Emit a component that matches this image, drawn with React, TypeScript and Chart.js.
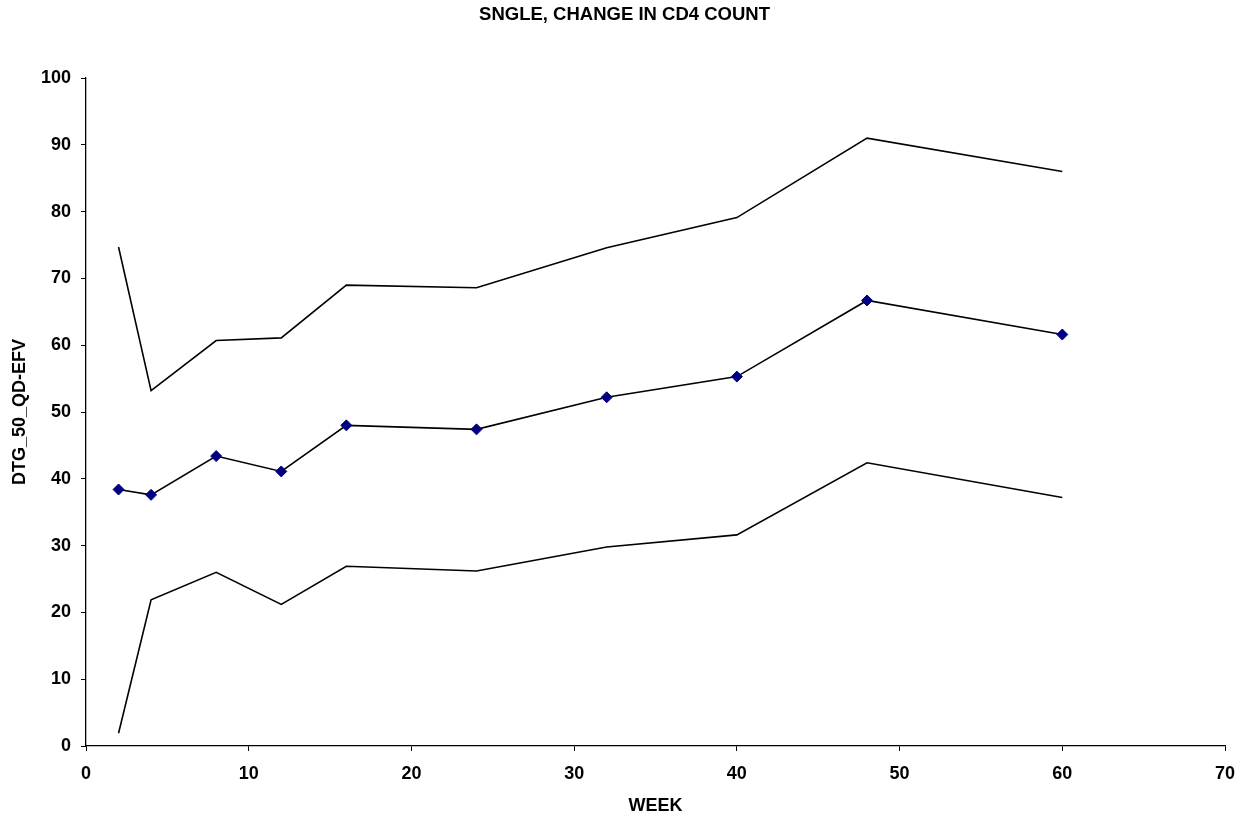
import React, { useEffect, useRef } from "react";
import { Chart, registerables } from "chart.js";

Chart.register(...registerables);

const weeks = [2, 4, 8, 12, 16, 24, 32, 40, 48, 60];
const meanValues = [38.4, 37.6, 43.4, 41.1, 48.0, 47.4, 52.2, 55.3, 66.7, 61.6];
const upperValues = [74.7, 53.2, 60.7, 61.1, 69.0, 68.6, 74.6, 79.1, 91.0, 86.0];
const lowerValues = [1.9, 21.9, 26.0, 21.2, 26.9, 26.2, 29.8, 31.6, 42.4, 37.2];

const titleText = "SNGLE, CHANGE IN CD4 COUNT";
const xTitle = "WEEK";
const yTitle = "DTG_50_QD-EFV";

const FONT = "'Liberation Sans', Arial, sans-serif";

export default function App() {
  const ref = useRef<HTMLCanvasElement | null>(null);

  useEffect(() => {
    if (!ref.current) return;
    const toXY = (vals: number[]) => weeks.map((w, i) => ({ x: w, y: vals[i] }));
    const chart = new Chart(ref.current, {
      type: "line",
      data: {
        datasets: [
          {
            label: "Upper",
            data: toXY(upperValues),
            borderColor: "#000000",
            borderWidth: 1.6,
            pointRadius: 0,
            tension: 0,
          },
          {
            label: "Mean",
            data: toXY(meanValues),
            borderColor: "#000000",
            borderWidth: 1.6,
            pointStyle: "rectRot",
            pointRadius: 5.5,
            pointBackgroundColor: "#000080",
            pointBorderColor: "#000080",
            pointBorderWidth: 1,
            tension: 0,
          },
          {
            label: "Lower",
            data: toXY(lowerValues),
            borderColor: "#000000",
            borderWidth: 1.6,
            pointRadius: 0,
            tension: 0,
          },
        ],
      },
      options: {
        responsive: false,
        animation: false,
        layout: { padding: { left: 0, right: 0, top: 0, bottom: 0 } },
        plugins: {
          legend: { display: false },
          tooltip: { enabled: false },
          title: {
            display: true,
            text: titleText,
            color: "#000",
            font: { family: FONT, size: 18.5, weight: "bold" },
            padding: { top: 3.5, bottom: 52.3 },
          },
        },
        scales: {
          x: {
            type: "linear",
            min: 0,
            max: 70,
            ticks: {
              stepSize: 10,
              color: "#000",
              font: { family: FONT, size: 18, weight: "bold" },
              padding: 12,
              maxRotation: 0,
            },
            grid: { drawOnChartArea: false, drawTicks: true, tickLength: 5, color: "#000" },
            border: { color: "#000", width: 1.3 },
            title: {
              display: true,
              text: xTitle,
              color: "#000",
              font: { family: FONT, size: 18, weight: "bold" },
              padding: { top: 0, bottom: 3 },
            },
            afterFit: (scale: any) => {
              scale.height = 74;
            },
          },
          y: {
            min: 0,
            max: 100,
            ticks: {
              stepSize: 10,
              color: "#000",
              font: { family: FONT, size: 18, weight: "bold" },
              padding: 10,
            },
            grid: { drawOnChartArea: false, drawTicks: true, tickLength: 5, color: "#000" },
            border: { color: "#000", width: 1.3 },
            title: {
              display: true,
              text: yTitle,
              color: "#000",
              font: { family: FONT, size: 18, weight: "bold" },
              padding: { top: 9, bottom: 0 },
            },
            afterFit: (scale: any) => {
              scale.width = 86;
            },
          },
          yRight: {
            position: "right",
            min: 0,
            max: 100,
            ticks: { display: false },
            grid: { display: false },
            border: { display: false },
            afterFit: (scale: any) => {
              scale.width = 24;
            },
          },
        },
      },
    });
    return () => chart.destroy();
  }, []);

  return (
    <div style={{ position: "fixed", left: 0, top: 0, width: 1249, height: 820, background: "#fff" }}>
      <canvas ref={ref} width={1249} height={820} />
    </div>
  );
}
